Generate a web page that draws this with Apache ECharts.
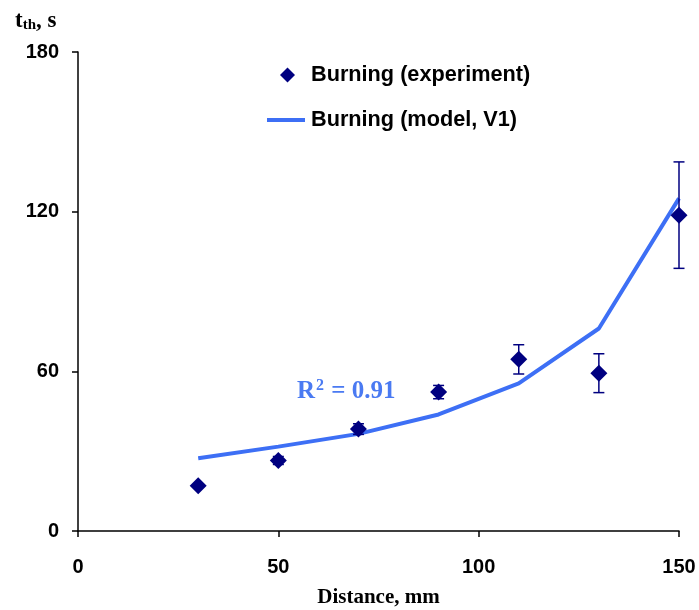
<!DOCTYPE html>
<html><head><meta charset="utf-8">
<script src="https://cdn.jsdelivr.net/npm/echarts@6/dist/echarts.min.js"></script>
<style>html,body{margin:0;padding:0;background:#fff}#c{width:699px;height:610px}</style>
</head><body><div id="c"></div>
<script>
const expX = [30, 50, 70, 90, 110, 130, 150];
const expY = [17, 26.5, 38.3, 52.2, 64.5, 59.3, 118.7];
const expErr = [0, 1.5, 2, 2.5, 5.5, 7.3, 20];
const modelX = [30, 50, 70, 90, 110, 130, 150];
const modelY = [27.3, 31.7, 36.5, 43.8, 55.5, 76.1, 125];
const xTicks = [0, 50, 100, 150];
const yTicks = [0, 60, 120, 180];

const navy = '#000080';
const blue = '#3d6ff5';
const sans = 'Liberation Sans, Arial, sans-serif';
const serif = 'Liberation Serif, Times New Roman, serif';

const chart = echarts.init(document.getElementById('c'), null, {renderer: 'canvas'});
chart.setOption({
  animation: false,
  backgroundColor: '#fff',
  title: [{
    text: '{t|t}{s|th}{t|, s}',
    left: 15, top: 9, padding: 0,
    textStyle: {rich: {
      t: {fontFamily: serif, fontWeight: 'bold', fontSize: 23, color: '#000'},
      s: {fontFamily: serif, fontWeight: 'bold', fontSize: 15, color: '#000', verticalAlign: 'bottom', padding: [9, 0, 0, 0]}
    }}
  }, {
    text: '{r|R}{p|2}{r| = 0.91}',
    left: 297, top: 378, padding: 0,
    textStyle: {rich: {
      r: {fontFamily: serif, fontWeight: 'bold', fontSize: 25, color: '#4a7af2'},
      p: {fontFamily: serif, fontWeight: 'bold', fontSize: 16, color: '#4a7af2', verticalAlign: 'top', padding: [0, 1, 12, 1]}
    }}
  }],
  legend: [{
    data: [{name: 'Burning (experiment)', icon: 'diamond'}],
    left: 280, top: 64, padding: 0, itemWidth: 15, itemHeight: 15,
    textStyle: {fontFamily: sans, fontWeight: 'bold', fontSize: 21.7, color: '#000', padding: [0, 0, 0, 11]}
  }, {
    data: [{name: 'Burning (model, V1)', icon: 'rect'}],
    left: 267, top: 109, padding: 0, itemWidth: 38, itemHeight: 4,
    itemStyle: {color: blue},
    textStyle: {fontFamily: sans, fontWeight: 'bold', fontSize: 21.7, color: '#000', padding: [0, 0, 0, 1]}
  }],
  grid: {left: 78, right: 20, top: 52, bottom: 79, containLabel: false, outerBoundsMode: 'none'},
  xAxis: {
    type: 'value', min: 0, max: 150, interval: 50,
    name: 'Distance, mm', nameLocation: 'middle', nameGap: 56,
    nameTextStyle: {fontFamily: serif, fontWeight: 'bold', fontSize: 21, color: '#000'},
    axisLine: {lineStyle: {color: '#000', width: 1.5}},
    axisTick: {show: true, length: 6, lineStyle: {color: '#000', width: 1.5}},
    axisLabel: {fontFamily: sans, fontWeight: 'bold', fontSize: 20, color: '#000', margin: 26,
      formatter: v => xTicks.includes(v) ? String(v) : ''},
    splitLine: {show: false}
  },
  yAxis: {
    type: 'value', min: 0, max: 180, interval: 60,
    axisLine: {show: true, lineStyle: {color: '#000', width: 1.5}},
    axisTick: {show: true, length: 6, lineStyle: {color: '#000', width: 1.5}},
    axisLabel: {fontFamily: sans, fontWeight: 'bold', fontSize: 20, color: '#000', margin: 19,
      formatter: v => yTicks.includes(v) ? String(v) : ''},
    splitLine: {show: false}
  },
  series: [{
    name: 'Burning (model, V1)',
    type: 'line',
    data: modelX.map((x, i) => [x, modelY[i]]),
    symbol: 'none',
    lineStyle: {color: blue, width: 4},
    itemStyle: {color: blue},
    z: 2
  }, {
    name: 'errorbars',
    type: 'custom',
    data: expX.map((x, i) => [x, expY[i] - expErr[i], expY[i] + expErr[i]]),
    renderItem: function (params, api) {
      const x = api.value(0);
      const lo = api.coord([x, api.value(1)]);
      const hi = api.coord([x, api.value(2)]);
      const cap = 5.5;
      const st = {stroke: navy, lineWidth: 1.5, fill: null};
      return {type: 'group', children: [
        {type: 'line', shape: {x1: lo[0], y1: lo[1], x2: hi[0], y2: hi[1]}, style: st},
        {type: 'line', shape: {x1: lo[0] - cap, y1: lo[1], x2: lo[0] + cap, y2: lo[1]}, style: st},
        {type: 'line', shape: {x1: hi[0] - cap, y1: hi[1], x2: hi[0] + cap, y2: hi[1]}, style: st}
      ]};
    },
    z: 3
  }, {
    name: 'Burning (experiment)',
    type: 'scatter',
    data: expX.map((x, i) => [x, expY[i]]),
    symbol: 'diamond',
    symbolSize: 17,
    itemStyle: {color: navy, opacity: 1},
    z: 4
  }]
});
</script></body></html>
